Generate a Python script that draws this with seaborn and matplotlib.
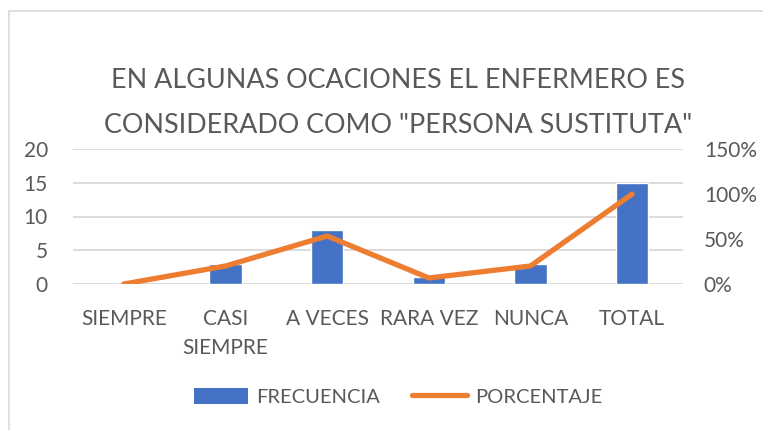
import matplotlib
matplotlib.use("Agg")
import matplotlib.pyplot as plt
import seaborn as sns
import pandas as pd
from matplotlib.patches import Patch
from matplotlib.lines import Line2D
from matplotlib.ticker import PercentFormatter

categories = ["SIEMPRE", "CASI\nSIEMPRE", "A VECES", "RARA VEZ", "NUNCA", "TOTAL"]
frecuencia = [0, 3, 8, 1, 3, 15]
porcentaje = [0.0, 0.20, 0.533, 0.067, 0.20, 1.0]
left_ticks = [0, 5, 10, 15, 20]
right_ticks = [0, 0.5, 1.0, 1.5]
title = 'EN ALGUNAS OCACIONES EL ENFERMERO ES\nCONSIDERADO COMO "PERSONA SUSTITUTA"'

sns.set_theme(style="white")
plt.rcParams['font.family'] = ['Lato', 'DejaVu Sans']
TXT = "#595959"
BLUE = "#4472C4"
ORANGE = "#ED7D31"

df = pd.DataFrame({"cat": categories, "frec": frecuencia, "pct": porcentaje})

fig = plt.figure(figsize=(7.63, 4.30), dpi=100)
ax = fig.add_axes([73/763, 1-284/430, (683-73)/763, (284-149)/430])

sns.barplot(data=df, x="cat", y="frec", color=BLUE, saturation=1, width=0.315, ax=ax, zorder=2)
ax.set_ylim(0, 20)
ax.set_yticks(left_ticks)
ax.grid(axis="y", color="#d9d9d9", linewidth=1.3, zorder=0)
ax.set_axisbelow(True)
for s in ax.spines.values():
    s.set_visible(False)
ax.set_xlabel("")
ax.set_ylabel("")
ax.tick_params(axis="both", length=0, colors=TXT, labelsize=15)
ax.tick_params(axis="x", pad=18)
ax.tick_params(axis="y", pad=18)
ax.set_xlim(-0.5, len(categories)-0.5)

ax2 = ax.twinx()
sns.lineplot(x=list(range(len(categories))), y=porcentaje, color=ORANGE, linewidth=3.8,
             ax=ax2, sort=False, solid_capstyle="round", solid_joinstyle="round")
ax2.set_ylim(0, 1.5)
ax2.set_yticks(right_ticks)
ax2.yaxis.set_major_formatter(PercentFormatter(1.0, decimals=0))
for s in ax2.spines.values():
    s.set_visible(False)
ax2.set_ylabel("")
ax2.tick_params(axis="y", length=0, colors=TXT, labelsize=15, pad=15)
ax2.grid(False)

for lab in ax.get_xticklabels():
    lab.set_linespacing(1.55)

fig.text(398/763, 1-103/430, title, ha="center", va="center", fontsize=19.4,
         color=TXT, linespacing=2.0)

handles = [Patch(facecolor=BLUE, edgecolor="none"),
           Line2D([0], [0], color=ORANGE, linewidth=3.8, solid_capstyle="round")]
fig.legend(handles, ["FRECUENCIA", "PORCENTAJE"], loc="center", ncol=2,
           bbox_to_anchor=(398/763, 1-397/430), frameon=False, fontsize=14.5,
           labelcolor=TXT, handlelength=2.7, handleheight=0.8, columnspacing=1.6,
           handletextpad=0.4)

fig.add_artist(Line2D([9/763, 9/763], [0, 1-10.5/430], color="#d9d9d9", linewidth=1.2,
                      transform=fig.transFigure))
fig.add_artist(Line2D([9/763, 1], [1-10.5/430, 1-10.5/430], color="#d9d9d9", linewidth=1.2,
                      transform=fig.transFigure))

fig.savefig("out.png", dpi=100)
